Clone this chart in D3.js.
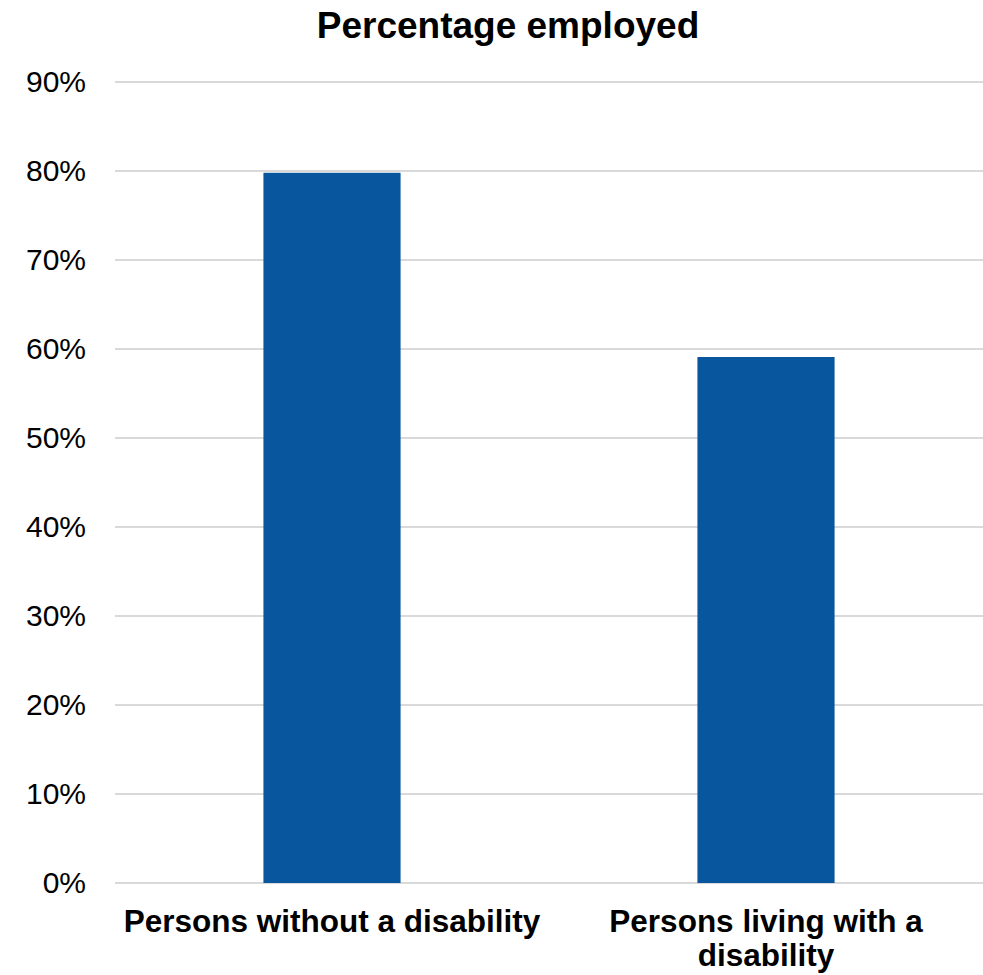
<!DOCTYPE html>
<html>
<head>
<meta charset="utf-8">
<script src="https://cdn.jsdelivr.net/npm/d3@7"></script>
<style>
  body { margin: 0; background: #fff; }
  text { font-family: "Liberation Sans", Arial, sans-serif; }
</style>
</head>
<body>
<svg id="chart" width="983" height="975"></svg>
<script>
'use strict'

const title = 'Percentage employed'
const categories = ['Persons without a disability', 'Persons living with a disability']
const categoryLines = [['Persons without a disability'], ['Persons living with a', 'disability']]
const values = [0.798, 0.591]
const yTicks = [0, 0.1, 0.2, 0.3, 0.4, 0.5, 0.6, 0.7, 0.8, 0.9]

const margin = { top: 82, right: 0, bottom: 92, left: 115 }
const width = 983
const height = 975

const svg = d3.select('#chart')

const x = d3.scaleBand()
  .domain(categories)
  .range([margin.left, width - margin.right])
  .paddingInner(0.684)
  .paddingOuter(0.342)

const y = d3.scaleLinear()
  .domain([0, 0.9])
  .range([height - margin.bottom, margin.top])

// gridlines
svg.append('g')
  .attr('class', 'grid')
  .selectAll('line')
  .data(yTicks)
  .enter().append('line')
  .attr('x1', margin.left)
  .attr('x2', width - margin.right)
  .attr('y1', d => y(d))
  .attr('y2', d => y(d))
  .attr('stroke', '#d9d9d9')
  .attr('stroke-width', 2)

// bars
svg.append('g')
  .selectAll('rect')
  .data(values)
  .enter().append('rect')
  .attr('x', (d, i) => x(categories[i]))
  .attr('width', x.bandwidth())
  .attr('y', d => y(d))
  .attr('height', d => y(0) - y(d))
  .attr('fill', '#08569e')

// y axis labels
const yAxis = d3.axisLeft(y)
  .tickValues(yTicks)
  .tickFormat(d3.format('.0%'))
  .tickSize(0)
  .tickPadding(29)

svg.append('g')
  .attr('transform', `translate(${margin.left},0)`)
  .call(yAxis)
  .call(g => g.select('.domain').remove())
  .selectAll('text')
  .attr('font-size', 30)
  .attr('fill', '#000')
  .attr('font-family', '"Liberation Sans", Arial, sans-serif')

// category labels
const xLabels = svg.append('g')
  .selectAll('text')
  .data(categoryLines)
  .enter().append('text')
  .attr('x', (d, i) => x(categories[i]) + x.bandwidth() / 2)
  .attr('y', height - margin.bottom + 49)
  .attr('text-anchor', 'middle')
  .attr('font-size', 31.5)
  .attr('font-weight', 'bold')
  .attr('fill', '#000')

xLabels.selectAll('tspan')
  .data(d => d)
  .enter().append('tspan')
  .attr('x', function () { return d3.select(this.parentNode).attr('x') })
  .attr('dy', (d, i) => i === 0 ? 0 : 34)
  .text(d => d)

// title
svg.append('text')
  .attr('x', 508)
  .attr('y', 38)
  .attr('text-anchor', 'middle')
  .attr('font-size', 37)
  .attr('font-weight', 'bold')
  .attr('fill', '#000')
  .text(title)
</script>
</body>
</html>
